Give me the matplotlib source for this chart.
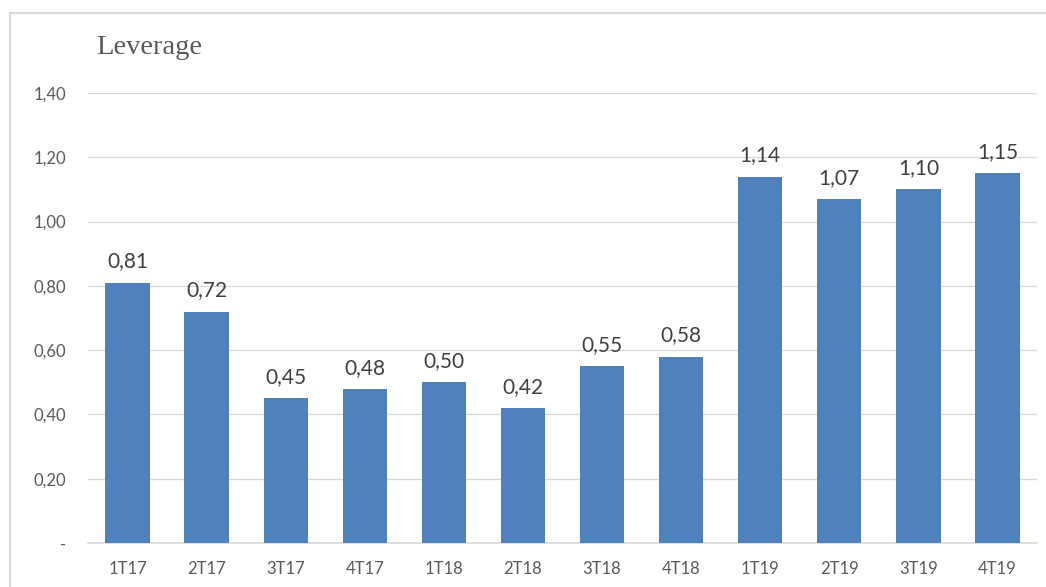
import matplotlib.pyplot as plt
from matplotlib.patches import Rectangle

quarters = ['1T17', '2T17', '3T17', '4T17', '1T18', '2T18', '3T18', '4T18',
            '1T19', '2T19', '3T19', '4T19']
leverage = [0.81, 0.72, 0.45, 0.48, 0.50, 0.42, 0.55, 0.58, 1.14, 1.07, 1.10, 1.15]
yticks = [0, 0.2, 0.4, 0.6, 0.8, 1.0, 1.2, 1.4]

W, H = 1046, 587
fig = plt.figure(figsize=(W / 100, H / 100), dpi=100)
ax = fig.add_axes([88 / W, 1 - 543 / H, (1037 - 88) / W, (543 - 93) / H])

# outer chart frame
fig.patches.append(Rectangle((10 / W, -0.1), 1.2, 1.1 - 13 / H, transform=fig.transFigure,
                             fill=False, edgecolor='#d9d9d9', linewidth=1.5))

x = range(len(quarters))
bars = ax.bar(x, leverage, width=0.56, color='#4f81bd', zorder=3)
for xi, v in zip(x, leverage):
    ax.annotate('{:.2f}'.format(v).replace('.', ','), (xi, v), xytext=(0, 8),
                textcoords='offset points', ha='center', va='bottom',
                fontsize=15, color='#404040', family='Lato')

ax.set_xlim(-0.5, len(quarters) - 0.5)
ax.set_ylim(0, 1.4)
ax.set_yticks(yticks)
ax.set_yticklabels(['-'] + ['{:.2f}'.format(t).replace('.', ',') for t in yticks[1:]])
ax.set_xticks(list(x))
ax.set_xticklabels(quarters)
ax.tick_params(axis='both', length=0, labelsize=12, labelcolor='#595959')
ax.tick_params(axis='y', pad=16)
ax.tick_params(axis='x', pad=13)
for lab in ax.get_xticklabels() + ax.get_yticklabels():
    lab.set_family('Lato')
ax.grid(axis='y', color='#d9d9d9', linewidth=1, zorder=0)
for s in ['top', 'right', 'left']:
    ax.spines[s].set_visible(False)
ax.spines['bottom'].set_color('#d9d9d9')
ax.spines['bottom'].set_linewidth(1.2)

fig.text(96 / W, 1 - 48 / H, 'Leverage', family='Liberation Serif', fontsize=20.5,
         color='#595959', va='center', ha='left')

fig.savefig('out.png', dpi=100)
